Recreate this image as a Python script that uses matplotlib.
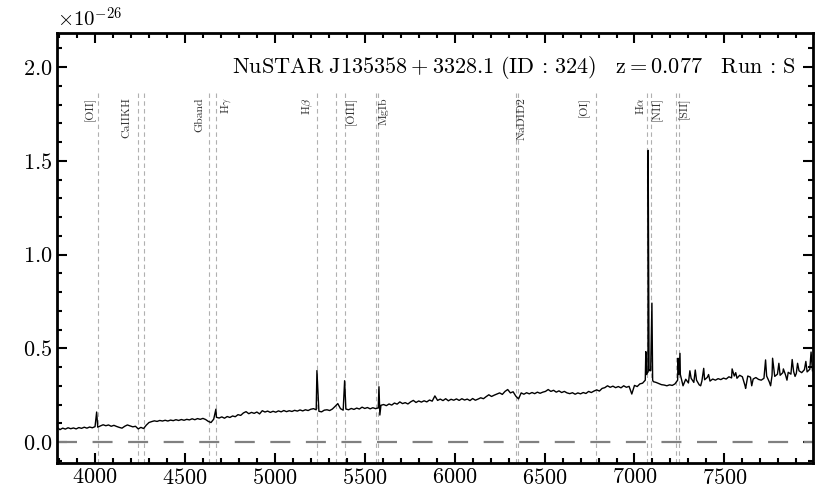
import numpy as np
import matplotlib
matplotlib.use("Agg")
import matplotlib.pyplot as plt
from matplotlib.ticker import MultipleLocator

plt.rcParams['font.family'] = 'serif'
plt.rcParams['font.serif'] = ['cmr10']
plt.rcParams['mathtext.fontset'] = 'cm'
plt.rcParams['axes.formatter.use_mathtext'] = True

z = 0.077

# continuum, every 15 A starting at 3790 A (units of 1e-26)
wave_start = 3790
wave_step = 15
cont_flux = [
    .078, .066, .074, .069, .076, .071, .075, .070, .077, .073, .079, .074, .080, .076, .082, .079, .086, .092, .087, .091,
    .084, .089, .083, .078, .074, .084, .091, .086, .081, .084, .070, .078, .072, .090, .104, .109, .113, .110, .115, .112,
    .116, .112, .117, .114, .119, .115, .120, .116, .121, .118, .124, .119, .125, .121, .126, .120, .110, .104, .122, .132,
    .128, .134, .127, .136, .131, .139, .135, .146, .142, .155, .162, .151, .158, .153, .160, .150, .167, .160, .165, .158,
    .164, .159, .166, .161, .168, .162, .167, .163, .169, .165, .171, .166, .172, .168, .175, .178, .172, .164, .161, .170,
    .172, .168, .176, .190, .205, .178, .170, .176, .172, .179, .174, .181, .176, .186, .179, .184, .177, .183, .178, .182,
    .196, .200, .194, .203, .197, .208, .202, .214, .205, .210, .203, .214, .222, .211, .219, .213, .220, .214, .224, .218,
    .246, .222, .229, .221, .231, .220, .228, .223, .230, .222, .231, .224, .229, .221, .232, .223, .229, .236, .231, .242,
    .252, .243, .250, .256, .262, .254, .270, .280, .262, .268, .245, .230, .262, .255, .263, .257, .264, .258, .266, .260,
    .266, .270, .280, .270, .276, .266, .273, .264, .270, .262, .258, .263, .255, .262, .257, .264, .259, .270, .264, .272,
    .278, .272, .286, .290, .300, .292, .298, .290, .296, .289, .300, .292, .297, .256, .302, .296, .310, .314, .330, .372,
    .380, .322, .318, .312, .306, .304, .300, .305, .302, .310, .330, .360, .300, .335, .315, .340, .318, .330, .305, .326,
    .332, .345, .325, .336, .330, .338, .333, .341, .336, .348, .342, .352, .340, .356, .348, .300, .352, .346, .336, .344,
    .334, .330, .340, .352, .320, .355, .350, .362, .356, .370, .358, .372, .362, .376, .366, .380, .370, .386, .374, .388,
    .380,
]

# emission lines and narrow spikes on top of the continuum
peak_wave = [4009, 4672, 5234, 5388, 5579, 5584,
             7063, 7067, 7071, 7076, 7081, 7086, 7097, 7101,
             7242, 7247, 7253,
             7308, 7338, 7368, 7385, 7412, 7543, 7563, 7618, 7652, 7729,
             7757, 7768, 7803, 7828, 7848, 7877, 7893, 7907, 7953, 7982]
peak_flux = [.160, .175, .381, .327, .295, .144,
             .482, .360, .370, 1.556, .380, .385, .741, .330,
             .447, .360, .473,
             .380, .384, .300, .393, .360, .390, .370, .286, .300, .438,
             .300, .447, .420, .390, .330, .440, .350, .420, .430, .480]

line_names = ['[OII]', 'CaIIKH', 'Gband', r'H$\gamma$', r'H$\beta$', '[OIII]',
              'MgIb', 'NaDID2', '[OI]', r'H$\alpha$', '[NII]', '[SII]']
line_rest = [[3727], [3934, 3969], [4304], [4341], [4861], [4959, 5007],
             [5167, 5173], [5890, 5896], [6300], [6563], [6583], [6716, 6731]]
label_wave = [3972, 4177, 4583, 4726, 5183, 5425, 5602, 6373, 6717, 7030, 7127, 7275]

grid = wave_start + wave_step * np.arange(len(cont_flux))
wave = np.concatenate([grid, peak_wave])
flux = np.concatenate([cont_flux, peak_flux])
order = np.argsort(wave)

fig = plt.figure(figsize=(8.3, 4.98), dpi=100)
ax = fig.add_axes([0.069, 0.071, 0.911, 0.862])

ymin, ymax = -0.11, 2.18
for name, rest, lx in zip(line_names, line_rest, label_wave):
    for w in rest:
        ax.vlines(w * (1 + z), ymin, 1.88, color='#b0b0b0',
                  lw=0.8, linestyle=(0, (4, 3)), zorder=1)
    ax.text(lx, 1.84, name, rotation=90, ha='center', va='top',
            fontsize=8.5, color='#333333')

ax.axhline(0, color='#808080', lw=1.6, linestyle=(0, (9, 7)), zorder=2)
ax.plot(wave[order], flux[order], color='black', lw=1.0, zorder=3)

ax.text(0.976, 0.9215,
        r'$\mathrm{NuSTAR\ J135358+3328.1\ (ID\,:\,324)\quad z=0.077\quad Run\,:\,S}$',
        transform=ax.transAxes, ha='right', va='center', fontsize=16)
# flux unit, drawn where matplotlib would put the offset text
ax.text(0.0, 1.006, r'$\times10^{-26}$', transform=ax.transAxes,
        ha='left', va='bottom', fontsize=15)

ax.set_xlim(3790, 7995)
ax.set_ylim(ymin, ymax)
ax.xaxis.set_major_locator(MultipleLocator(500))
ax.xaxis.set_minor_locator(MultipleLocator(100))
ax.yaxis.set_major_locator(MultipleLocator(0.5))
ax.yaxis.set_minor_locator(MultipleLocator(0.1))
ax.tick_params(which='both', direction='in', top=True, right=True,
               labelsize=16, width=1.5)
ax.tick_params(which='major', length=7)
ax.tick_params(which='minor', length=3.6)
for s in ax.spines.values():
    s.set_linewidth(2)

fig.savefig('out.png', dpi=100)
